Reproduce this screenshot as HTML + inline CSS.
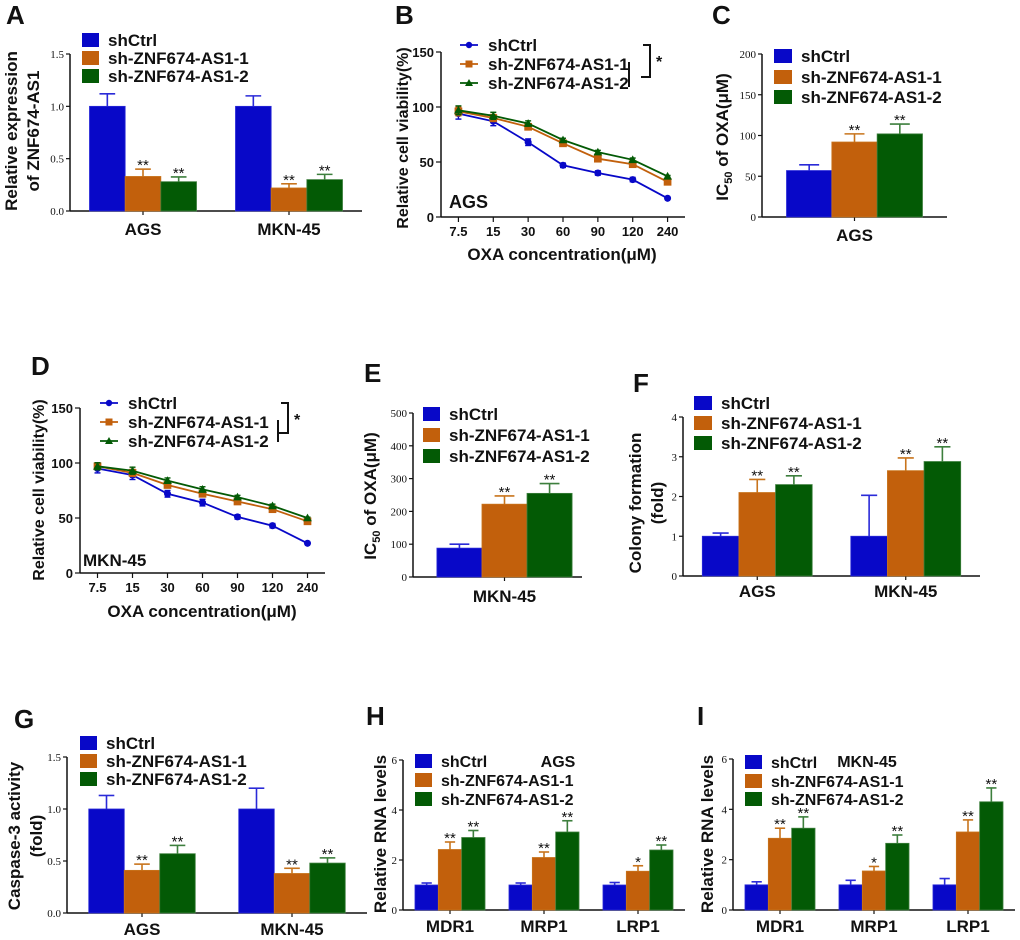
<!DOCTYPE html>
<html><head><meta charset="utf-8">
<style>
html,body{margin:0;padding:0;background:#fff;}
svg{display:block;font-family:"Liberation Sans",Arial,sans-serif;}
.b{font-weight:bold;}
.tk{font-family:"Liberation Serif",serif;font-size:11px;}
</style></head>
<body>
<svg id="fig" width="1020" height="940" viewBox="0 0 1020 940" xmlns="http://www.w3.org/2000/svg"></svg>
<script>
// ---------- data ----------
const seriesNames = ['shCtrl','sh-ZNF674-AS1-1','sh-ZNF674-AS1-2'];
const cellLines = ['AGS','MKN-45'];
const genes = ['MDR1','MRP1','LRP1'];
const doses = ['7.5','15','30','60','90','120','240'];

const aVals = [[1.0,1.0],[0.33,0.22],[0.28,0.30]];
const aErr  = [[0.12,0.10],[0.07,0.04],[0.045,0.05]];
const aSig  = [['',''],['**','**'],['**','**']];
const aTicks = ['0.0','0.5','1.0','1.5'];

const bCtrl = [94,87,68,47,40,34,17];
const bSh1  = [96,90,82,67,53,48,32];
const bSh2  = [97,92,85,70,59,52,37];
const bErr  = [5,4,3,2,2,2,1];
const lineTicks = ['0','50','100','150'];

const cVals = [[57],[92],[102]];
const cErr  = [[7],[10],[12]];
const cSig  = [[''],['**'],['**']];
const cTicks = ['0','50','100','150','200'];

const dCtrl = [95,89,72,64,51,43,27];
const dSh1  = [97,91,80,72,65,58,47];
const dSh2  = [97,93,84,76,69,61,50];
const dErr  = [4,4,3,3,2,2,1];

const eVals = [[88],[222],[255]];
const eErr  = [[12],[25],[30]];
const eSig  = [[''],['**'],['**']];
const eTicks = ['0','100','200','300','400','500'];

const fVals = [[1.0,1.0],[2.1,2.65],[2.3,2.88]];
const fErr  = [[0.08,1.03],[0.33,0.32],[0.22,0.37]];
const fSig  = [['',''],['**','**'],['**','**']];
const fTicks = ['0','1','2','3','4'];

const gVals = [[1.0,1.0],[0.41,0.38],[0.57,0.48]];
const gErr  = [[0.13,0.2],[0.06,0.05],[0.08,0.05]];
const gSig  = [['',''],['**','**'],['**','**']];
const gTicks = ['0.0','0.5','1.0','1.5'];

const hVals = [[1.0,1.0,1.0],[2.42,2.1,1.55],[2.9,3.12,2.4]];
const hErr  = [[0.08,0.08,0.1],[0.3,0.22,0.22],[0.28,0.45,0.2]];
const hSig  = [['','',''],['**','**','*'],['**','**','**']];
const rnaTicks = ['0','2','4','6'];

const iVals = [[1.0,1.0,1.0],[2.85,1.55,3.1],[3.25,2.65,4.3]];
const iErr  = [[0.12,0.18,0.25],[0.4,0.18,0.48],[0.45,0.33,0.55]];
const iSig  = [['','',''],['**','*','**'],['**','**','**']];

// ---------- helpers ----------
const NS='http://www.w3.org/2000/svg';
const svg=document.getElementById('fig');
const COL=['#0808c8','#c2600c','#035a05'];
const ERRC=['#2a2ad8','#c8741c','#3d7f3d'];
function mk(tag,attrs,parent,text){
  const e=document.createElementNS(NS,tag);
  for(const k in attrs)e.setAttribute(k,attrs[k]);
  if(text!==undefined)e.textContent=text;
  (parent||svg).appendChild(e);return e;
}
function txt(x,y,s,size,opts,parent){
  opts=opts||{};
  const e=mk('text',{x:x,y:y,'font-size':size,'font-weight':opts.w||'bold','text-anchor':opts.a||'start',fill:'#111'},parent,s);
  if(opts.f)e.setAttribute('font-family',opts.f);
  if(opts.rot)e.setAttribute('transform','rotate(-90 '+x+' '+y+')');
  return e;
}
function panelLabel(x,y,s){
  const t=txt(x,y,s,26);
  
  
}
function yTitle(g,x,y,lines,size){
  lines.forEach((l,i)=>{
    const t=txt(x+i*22,y,'',size,{a:'middle',rot:true},g);
    
    
    if(l.indexOf('IC50')===0){
      mk('tspan',{},t,'IC');
      mk('tspan',{'font-size':size*0.65,dy:4},t,'50');
      mk('tspan',{dy:-4},t,l.slice(4));
    } else t.textContent=l;
  });
}
function legendBars(g,x,ys,size,sw){
  seriesNames.forEach((n,i)=>{
    const le=mk('g',{},g);
    
    
    mk('rect',{x:x,y:ys[i]-7,width:sw||17,height:14,fill:COL[i]},le);
    txt(x+(sw||17)+9,ys[i]+6,n,size,{},le);
  });
}
function legendLines(g,x,ys,size){
  seriesNames.forEach((n,i)=>{
    const le=mk('g',{},g);
    
    
    mk('line',{x1:x,x2:x+18,y1:ys[i],y2:ys[i],stroke:COL[i],'stroke-width':1.8},le);
    marker(le,i,x+9,ys[i],1);
    txt(x+28,ys[i]+6,n,size,{},le);
  });
}
function marker(g,i,x,y,sc){
  let m;
  if(i===0)m=mk('circle',{cx:x,cy:y,r:3.2*sc,fill:COL[0]},g);
  else if(i===1)m=mk('rect',{x:x-3.5*sc,y:y-3.5*sc,width:7*sc,height:7*sc,fill:COL[1]},g);
  else m=mk('polygon',{points:(x)+','+(y-4*sc)+' '+(x+4*sc)+','+(y+3*sc)+' '+(x-4*sc)+','+(y+3*sc),fill:COL[2]},g);
  return m;
}
// bar chart
function barChart(name,c,vals,errs,sigs,ticks,cats){
  const g=mk('g',{});
  
  
  const max=parseFloat(ticks[ticks.length-1]);
  const ys=v=>c.yb-(v/max)*(c.yb-c.yt);
  const n=cats.length, band=(c.x1-c.x0)/n, bw=band*c.f/3;
  // axes
  const ax=mk('g',{},g);
  
  
  mk('line',{x1:c.x0,x2:c.x0,y1:c.yt,y2:c.yb,stroke:'#111','stroke-width':1.5},ax);
  ticks.forEach(t=>{
    const y=ys(parseFloat(t));
    mk('line',{x1:c.x0-4,x2:c.x0,y1:y,y2:y,stroke:'#111','stroke-width':1.2},ax);
    const tl=txt(c.x0-6,y+4,t,11,{a:'end',w:'normal',f:'"Liberation Serif",serif'},ax);
    
    
  });
  const xa=mk('g',{},g);
  
  
  mk('line',{x1:c.x0,x2:c.x1,y1:c.yb,y2:c.yb,stroke:'#111','stroke-width':1.5},xa);
  cats.forEach((cat,j)=>{
    const cx=c.x0+band*(j+0.5)+(c.dx||0);
    mk('line',{x1:cx,x2:cx,y1:c.yb,y2:c.yb+4,stroke:'#111','stroke-width':1.2},xa);
    const tl=txt(cx,c.yb+c.lab,cat,c.ls||17,{a:'middle'},xa);
    
    
    for(let i=0;i<3;i++){
      const x=cx-bw*1.5+bw*i, v=vals[i][j], e=errs[i][j];
      const top=ys(v), et=ys(v+e);
      const b=mk('rect',{x:x,y:top,width:bw,height:c.yb-top,fill:COL[i],stroke:ERRC[i],'stroke-width':0.8},g);
      
      
      mk('line',{x1:x+bw/2,x2:x+bw/2,y1:top,y2:et,stroke:ERRC[i],'stroke-width':1.6},g);
      mk('line',{x1:x+bw/2-bw*0.22,x2:x+bw/2+bw*0.22,y1:et,y2:et,stroke:ERRC[i],'stroke-width':1.6},g);
      if(sigs[i][j]){
        const s=txt(x+bw/2,et-3+(sigs[i][j]==='*'?4:4),sigs[i][j],15,{a:'middle',w:'normal'},g);
        
        
      }
    }
  });
  return g;
}
// line chart
function lineChart(name,c,series,err){
  const g=mk('g',{});
  
  
  const ys=v=>c.yb-(v/150)*(c.yb-c.yt);
  const band=(c.x1-c.x0)/doses.length;
  const xs=i=>c.x0+band*(i+0.5);
  const ax=mk('g',{},g);
  
  
  mk('line',{x1:c.x0,x2:c.x0,y1:c.yt,y2:c.yb,stroke:'#111','stroke-width':1.5},ax);
  lineTicks.forEach(t=>{
    const y=ys(parseFloat(t));
    mk('line',{x1:c.x0-5,x2:c.x0,y1:y,y2:y,stroke:'#111','stroke-width':1.2},ax);
    const tl=txt(c.x0-7,y+5,t,13,{a:'end'},ax);
    
    
  });
  const xa=mk('g',{},g);
  
  
  mk('line',{x1:c.x0,x2:c.x1,y1:c.yb,y2:c.yb,stroke:'#111','stroke-width':1.5},xa);
  doses.forEach((d,i)=>{
    mk('line',{x1:xs(i),x2:xs(i),y1:c.yb,y2:c.yb+5,stroke:'#111','stroke-width':1.2},xa);
    const tl=txt(xs(i),c.yb+19,d,13,{a:'middle'},xa);
    
    
  });
  series.forEach((s,k)=>{
    const p=mk('polyline',{points:s.map((v,i)=>xs(i)+','+ys(v)).join(' '),fill:'none',stroke:COL[k],'stroke-width':1.8},g);
    
    
    s.forEach((v,i)=>{
      const e=err[i]*(k===0?1:0.8);
      mk('line',{x1:xs(i),x2:xs(i),y1:ys(v-e),y2:ys(v+e),stroke:COL[k],'stroke-width':1.4},g);
      mk('line',{x1:xs(i)-3,x2:xs(i)+3,y1:ys(v+e),y2:ys(v+e),stroke:COL[k],'stroke-width':1.4},g);
      mk('line',{x1:xs(i)-3,x2:xs(i)+3,y1:ys(v-e),y2:ys(v-e),stroke:COL[k],'stroke-width':1.4},g);
      const m=marker(g,k,xs(i),ys(v),1.1);
      
      
    });
  });
  return g;
}
function bracket(g,xo,yt,yb,xi,yi1,yi2){
  mk('polyline',{points:(xo-7)+','+yt+' '+xo+','+yt+' '+xo+','+yb+' '+(xo-9)+','+yb,fill:'none',stroke:'#111','stroke-width':2},g);
  mk('line',{x1:xi,x2:xi,y1:yi1,y2:yi2,stroke:'#111','stroke-width':2},g);
  const s=txt(xo+6,yt+22,'*',16,{},g);
  
  
}

// ---------- Panel A ----------
panelLabel(6,24,'A');
const gA=barChart('panel-a-chart',{x0:70,x1:362,yt:54,yb:211,f:0.733,lab:24},aVals,aErr,aSig,aTicks,cellLines);
legendBars(gA,82,[40,58,76],17);
yTitle(gA,17,131,['Relative expression','of ZNF674-AS1'],17);

// ---------- Panel B ----------
panelLabel(395,24,'B');
const gB=lineChart('panel-b-chart',{x0:441,x1:685,yt:52,yb:217},[bCtrl,bSh1,bSh2],bErr);
legendLines(gB,460,[45,64,83],17);
bracket(gB,650,45,77,629,62,87);
yTitle(gB,408,138,['Relative cell viability(%)'],16);
{const t=txt(449,208,'AGS',18,{},gB);}
{const t=txt(562,260,'OXA concentration(μM)',17,{a:'middle'},gB);}

// ---------- Panel C ----------
panelLabel(712,24,'C');
const gC=barChart('panel-c-chart',{x0:762,x1:947,yt:54,yb:217,f:0.735,lab:24,dx:0},cVals,cErr,cSig,cTicks,['AGS']);
legendBars(gC,774,[56,77,97],17,18);
yTitle(gC,728,137,['IC50 of OXA(μM)'],17);

// ---------- Panel D ----------
panelLabel(31,375,'D');
const gD=lineChart('panel-d-chart',{x0:80,x1:325,yt:408,yb:573},[dCtrl,dSh1,dSh2],dErr);
legendLines(gD,100,[403,422,441],17);
bracket(gD,288,403,433,278,420,442);
yTitle(gD,44,490,['Relative cell viability(%)'],16);
{const t=txt(83,566,'MKN-45',17,{},gD);}
{const t=txt(202,617,'OXA concentration(μM)',17,{a:'middle'},gD);}

// ---------- Panel E ----------
panelLabel(364,382,'E');
const gE=barChart('panel-e-chart',{x0:413,x1:582,yt:413,yb:577,f:0.8,lab:25,dx:7},eVals,eErr,eSig,eTicks,['MKN-45']);
legendBars(gE,423,[414,435,456],17);
yTitle(gE,376,496,['IC50 of OXA(μM)'],17);

// ---------- Panel F ----------
panelLabel(633,392,'F');
const gF=barChart('panel-f-chart',{x0:683,x1:980,yt:417,yb:576,f:0.74,lab:21},fVals,fErr,fSig,fTicks,cellLines);
legendBars(gF,694,[403,423,443],17,18);
yTitle(gF,641,503,['Colony formation','(fold)'],17);

// ---------- Panel G ----------
panelLabel(14,728,'G');
const gG=barChart('panel-g-chart',{x0:67,x1:367,yt:757,yb:913,f:0.71,lab:22},gVals,gErr,gSig,gTicks,cellLines);
legendBars(gG,80,[743,761,779],17);
yTitle(gG,20,836,['Caspase-3 activity','(fold)'],17);

// ---------- Panel H ----------
panelLabel(366,725,'H');
const gH=barChart('panel-h-chart',{x0:403,x1:685,yt:760,yb:910,f:0.745,lab:22,ls:17},hVals,hErr,hSig,rnaTicks,genes);
legendBars(gH,415,[761,780,799],16);
yTitle(gH,386,834,['Relative RNA levels'],17);
{const t=txt(558,767,'AGS',16,{a:'middle'},gH);}

// ---------- Panel I ----------
panelLabel(697,725,'I');
const gI=barChart('panel-i-chart',{x0:733,x1:1015,yt:759,yb:910,f:0.745,lab:22,ls:17},iVals,iErr,iSig,rnaTicks,genes);
legendBars(gI,745,[762,781,799],16);
yTitle(gI,713,834,['Relative RNA levels'],17);
{const t=txt(867,767,'MKN-45',16,{a:'middle'},gI);}
</script>
</body></html>
